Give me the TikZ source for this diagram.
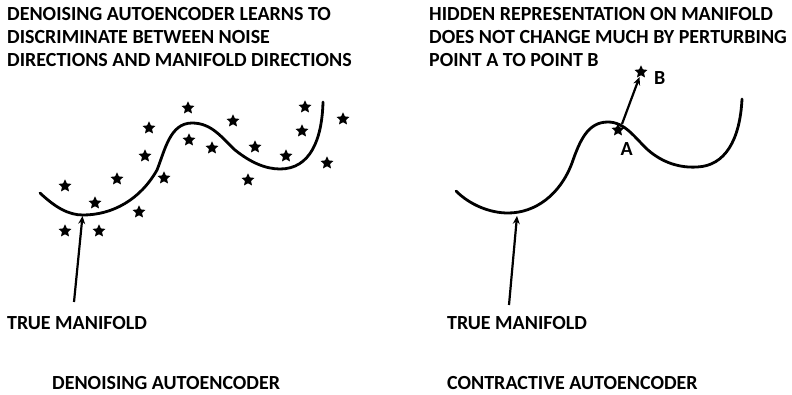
\documentclass[tikz,border=0pt]{standalone}
\usepackage{fontspec}
\setmainfont{Carlito}
\usetikzlibrary{shapes.geometric,arrows.meta}
\tikzset{
  manifold/.style={line width=2.8pt, line cap=round},
  pointer/.style={line width=2.2pt, -{Stealth[length=8pt,width=7pt]}},
  starmark/.style={star, star points=5, star point ratio=2.1, fill=black, draw=none, inner sep=0pt, minimum size=13.5pt},
  label/.style={font=\fontsize{20}{23}\selectfont\bfseries, inner sep=0pt, align=left, anchor=base west},
}
\begin{document}
\begin{tikzpicture}[x=1pt,y=-1pt]
\useasboundingbox (0,0) rectangle (792,394);
% titles (base anchor = last line)
\node[label] (t1) at (7,66.7) {DENOISING AUTOENCODER LEARNS TO\\DISCRIMINATE BETWEEN NOISE\\DIRECTIONS AND MANIFOLD DIRECTIONS};
\node[label] (t2) at (429,66.7) {HIDDEN REPRESENTATION ON MANIFOLD\\DOES NOT CHANGE MUCH BY PERTURBING\\POINT A TO POINT B};
% left manifold
\draw[manifold] (40,193) .. controls (55,207) and (68,215) .. (83,215)
  .. controls (112,215) and (140,200) .. (157,170)
  .. controls (165,150) and (170,123) .. (192,123)
  .. controls (212,123) and (222,138) .. (235,150)
  .. controls (250,162) and (265,169) .. (280,169)
  .. controls (310,169) and (322,140) .. (323,102);
% noise stars
\foreach \p [count=\i] in {(188,108),(305,107),(343,119),(233,121),(149,128),(302,131),(189,140),(212,148),(255,147),(145,156),(286,156),(327,163),(164,178),(248,180),(117,179),(65,186),(95,203),(139,212),(65,231),(99,231)}
  \node[starmark] (n\i) at \p {};
% left pointer
\coordinate (l0) at (74,302);
\coordinate (l1) at (82.5,216);
\draw[pointer] (l0) -- (l1);
\node[label] (tm1) at (7,329.5) {TRUE MANIFOLD};
\node[label] (c1) at (52,389.5) {DENOISING AUTOENCODER};
% right manifold
\draw[manifold] (456,191) .. controls (470,205) and (490,213) .. (508,213)
  .. controls (535,213) and (560,195) .. (572,163)
  .. controls (580,140) and (588,122) .. (608,122)
  .. controls (625,122) and (635,138) .. (648,150)
  .. controls (663,163) and (680,168) .. (697,167)
  .. controls (725,166) and (740,140) .. (742,99);
\node[starmark] (A) at (618,130) {};
\node[starmark] (B) at (641,72) {};
\coordinate (a0) at (622,124);
\coordinate (b0) at (639.5,77);
\draw[pointer] (a0) -- (b0);
\node[label] (la) at (620.5,155) {A};
\node[label] (lb) at (654,84) {B};
\coordinate (r0) at (509,305);
\coordinate (r1) at (517,216);
\draw[pointer] (r0) -- (r1);
\node[label] (tm2) at (447,329.5) {TRUE MANIFOLD};
\node[label] (c2) at (447,389.5) {CONTRACTIVE AUTOENCODER};
\end{tikzpicture}
\end{document}
